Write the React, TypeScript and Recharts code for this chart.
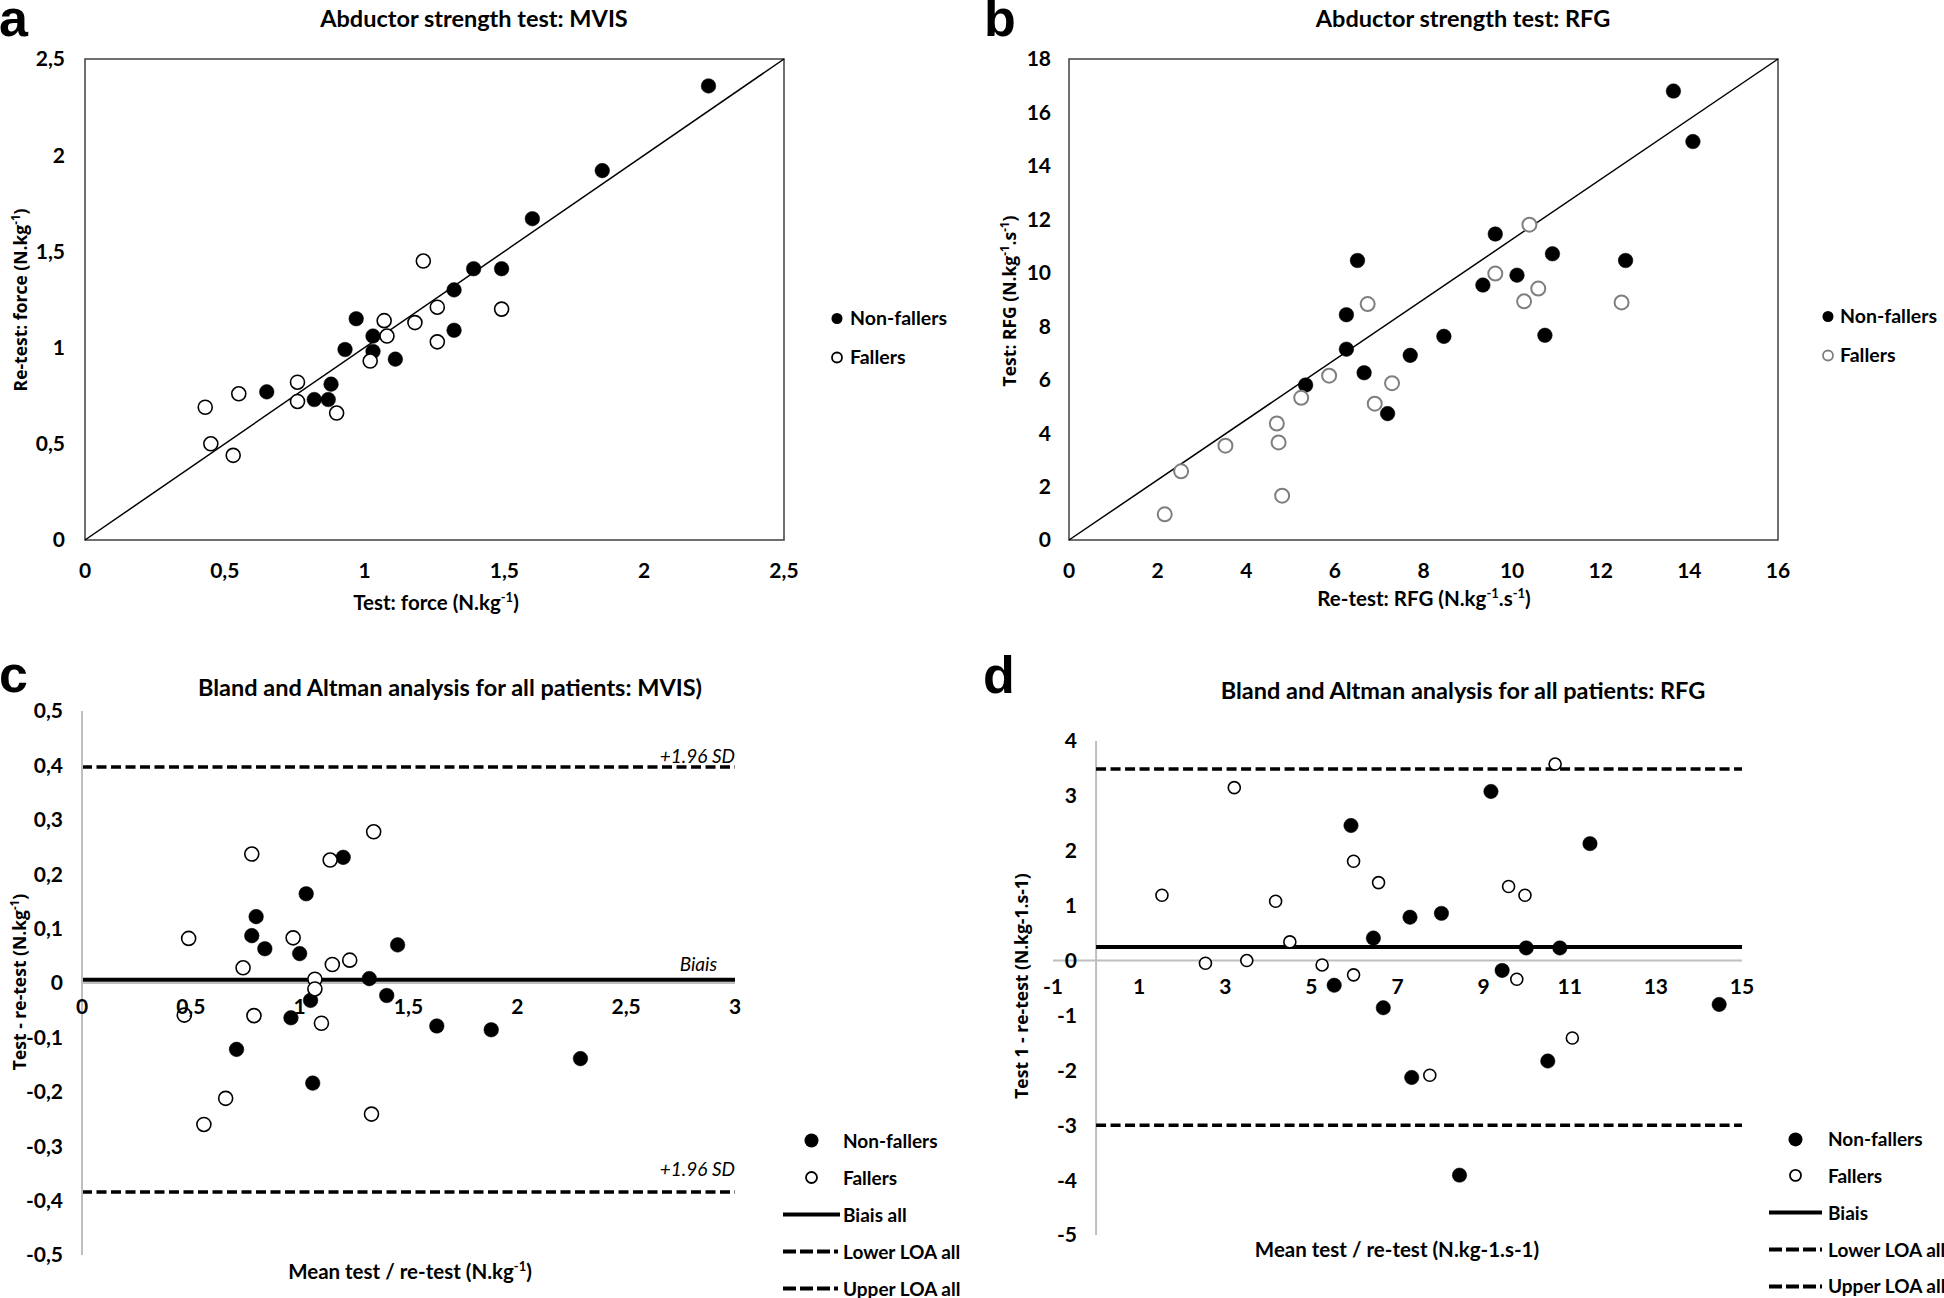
import React from 'react';
import { ScatterChart, Scatter, XAxis, YAxis, ReferenceLine, ReferenceArea, Legend } from 'recharts';

// ---------- Panel a: MVIS test vs re-test ----------
const A_NF_X = [2.23, 1.85, 1.6, 1.39, 1.49, 1.32, 1.32, 0.97, 1.03, 0.93, 1.03, 1.11, 0.88, 0.82, 0.87, 0.65];
const A_NF_Y = [2.36, 1.92, 1.67, 1.41, 1.41, 1.3, 1.09, 1.15, 1.06, 0.99, 0.98, 0.94, 0.81, 0.73, 0.73, 0.77];
const A_F_X = [1.21, 1.49, 1.26, 1.26, 1.18, 1.07, 1.08, 1.02, 0.76, 0.76, 0.9, 0.55, 0.43, 0.45, 0.53];
const A_F_Y = [1.45, 1.2, 1.21, 1.03, 1.13, 1.14, 1.06, 0.93, 0.82, 0.72, 0.66, 0.76, 0.69, 0.5, 0.44];
const A_TICKS = [0, 0.5, 1, 1.5, 2, 2.5];

// ---------- Panel b: RFG re-test vs test ----------
const B_NF_X = [13.64, 14.08, 9.62, 10.91, 6.51, 12.56, 10.11, 9.34, 6.26, 10.74, 8.46, 6.26, 7.7, 6.66, 5.34, 7.19];
const B_NF_Y = [16.8, 14.91, 11.45, 10.71, 10.46, 10.46, 9.91, 9.54, 8.43, 7.66, 7.62, 7.14, 6.91, 6.26, 5.8, 4.73];
const B_F_X = [10.39, 9.62, 10.59, 10.27, 12.47, 6.74, 5.87, 7.29, 5.24, 6.9, 4.69, 4.73, 3.53, 2.53, 4.81, 2.16];
const B_F_Y = [11.8, 9.97, 9.41, 8.93, 8.89, 8.83, 6.15, 5.87, 5.32, 5.1, 4.36, 3.65, 3.53, 2.57, 1.66, 0.96];
const B_XTICKS = [0, 2, 4, 6, 8, 10, 12, 14, 16];
const B_YTICKS = [0, 2, 4, 6, 8, 10, 12, 14, 16, 18];

// ---------- Panel c: Bland-Altman MVIS ----------
const C_NF_X = [1.2, 1.03, 0.8, 0.78, 0.84, 1.0, 1.45, 1.32, 1.4, 1.05, 0.96, 1.63, 1.88, 0.71, 2.29, 1.06];
const C_NF_Y = [0.231, 0.164, 0.122, 0.087, 0.063, 0.054, 0.07, 0.008, -0.023, -0.032, -0.064, -0.079, -0.086, -0.122, -0.139, -0.184];
const C_F_X = [1.34, 0.78, 1.14, 0.49, 0.97, 1.23, 1.15, 0.74, 1.07, 1.07, 0.47, 0.79, 1.1, 0.66, 0.56, 1.33];
const C_F_Y = [0.278, 0.237, 0.226, 0.082, 0.083, 0.042, 0.034, 0.028, 0.007, -0.011, -0.059, -0.06, -0.074, -0.212, -0.26, -0.241];
const C_BIAS = 0.006;
const C_UPPER = 0.397;
const C_LOWER = -0.384;
const C_XTICKS = [0, 0.5, 1, 1.5, 2, 2.5, 3];
const C_YTICKS = [-0.5, -0.4, -0.3, -0.2, -0.1, 0, 0.1, 0.2, 0.3, 0.4, 0.5];

// ---------- Panel d: Bland-Altman RFG ----------
const D_NF_X = [9.17, 5.92, 11.47, 8.02, 7.29, 6.44, 9.99, 10.77, 9.43, 5.53, 14.47, 6.67, 10.49, 7.33, 8.44];
const D_NF_Y = [3.08, 2.46, 2.13, 0.86, 0.79, 0.41, 0.23, 0.23, -0.18, -0.45, -0.8, -0.86, -1.83, -2.13, -3.91];
const D_F_X = [10.66, 3.21, 5.98, 6.56, 9.58, 9.96, 1.53, 4.17, 4.5, 2.54, 3.5, 5.25, 5.98, 9.77, 11.06, 7.75];
const D_F_Y = [3.58, 3.15, 1.81, 1.42, 1.35, 1.19, 1.19, 1.08, 0.34, -0.05, 0.0, -0.08, -0.26, -0.34, -1.41, -2.09];
const D_BIAS = 0.245;
const D_UPPER = 3.49;
const D_LOWER = -3.0;
const D_XTICKS = [-1, 1, 3, 5, 7, 9, 11, 13, 15];
const D_YTICKS = [-5, -4, -3, -2, -1, 0, 1, 2, 3, 4];

const LEG_AB = ['Non-fallers', 'Fallers'];
const LEG_C = ['Non-fallers', 'Fallers', 'Biais all', 'Lower LOA all', 'Upper LOA all'];
const LEG_D = ['Non-fallers', 'Fallers', 'Biais', 'Lower LOA all', 'Upper LOA all'];

const FONT = 'Lato, "Open Sans", sans-serif';
const YFONT = '"Open Sans", Lato, sans-serif';
const TICK_FS = 21;
const GRAY = '#bfbfbf';

const pts = (xs: number[], ys: number[]) => xs.map((x, i) => ({ x, y: ys[i] }));
const fmt = (v: number) => String(v).replace('.', ',');

const dot = (r: number, fill: string, stroke: string, sw: number) => (p: any) =>
  <circle cx={p.cx} cy={p.cy} r={r} fill={fill} stroke={stroke} strokeWidth={sw} />;

const yTick = (gap: number) => (p: any) => (
  <text x={p.x - gap} y={p.y + 7.4} textAnchor="end" fontFamily={FONT} fontWeight={700} fontSize={TICK_FS} fill="#000">
    {fmt(p.payload.value)}
  </text>
);
const xTickBelow = (dist: number) => (p: any) => (
  <text x={p.x} y={p.y + dist + 7.4} textAnchor="middle" fontFamily={FONT} fontWeight={700} fontSize={TICK_FS} fill="#000">
    {fmt(p.payload.value)}
  </text>
);
const xTickAt = (yPix: number) => (p: any) => (
  <text x={p.x} y={yPix + 7.4} textAnchor="middle" fontFamily={FONT} fontWeight={700} fontSize={TICK_FS} fill="#000">
    {fmt(p.payload.value)}
  </text>
);

const LegendBox = ({ items, spacing, sampleW, textGap, markR, openR, openStroke, fontSize }: any) => (
  <div style={{ fontFamily: FONT, fontWeight: 700, fontSize, color: '#000', lineHeight: 1 }}>
    {items.map((label: string, i: number) => {
      const h = spacing;
      const cx = sampleW / 2;
      let sample: any = null;
      if (i === 0) sample = <circle cx={cx} cy={h / 2} r={markR} fill="#000" />;
      else if (i === 1) sample = <circle cx={cx} cy={h / 2} r={openR} fill="#fff" stroke={openStroke} strokeWidth={1.8} />;
      else if (i === 2) sample = <line x1={0} x2={sampleW} y1={h / 2} y2={h / 2} stroke="#000" strokeWidth={4} />;
      else sample = <line x1={0} x2={sampleW} y1={h / 2} y2={h / 2} stroke="#000" strokeWidth={4} strokeDasharray="13 4 13 4 13 4 4 20" />;
      return (
        <div key={label} style={{ display: 'flex', alignItems: 'center', height: h, whiteSpace: 'nowrap' }}>
          <svg width={sampleW} height={h} style={{ flex: 'none', display: 'block' }}>{sample}</svg>
          <span style={{ marginLeft: textGap }}>{label}</span>
        </div>
      );
    })}
  </div>
);

const AnnLabel = ({ viewBox, text, dx, dy }: any) => {
  const vb = viewBox || { x: 0, y: 0, width: 0 };
  return (
    <text x={vb.x + vb.width + dx} y={vb.y + dy} textAnchor="end" fontFamily={FONT} fontStyle="italic" fontSize={19} fill="#000">
      {text}
    </text>
  );
};

// rich text with superscripts: strings are normal, [string] is superscript
const rich = (parts: (string | string[])[], supFs: number, rise: number) => {
  let raised = false;
  return parts.map((p, i) => {
    if (Array.isArray(p)) {
      raised = true;
      return <tspan key={i} dy={-rise} fontSize={supFs}>{p[0]}</tspan>;
    }
    const dy = raised ? rise : 0;
    raised = false;
    return <tspan key={i} dy={dy}>{p}</tspan>;
  });
};

// Layout constants (chart pixels)
const C_TOP = 71, C_H = 544;
const C_ZERO = C_TOP + C_H * 0.5;
const D_TOP = 101, D_H = 494;
const D_ZERO = D_TOP + D_H * (4 / 9);

export default function App() {
  const aNF = pts(A_NF_X, A_NF_Y), aF = pts(A_F_X, A_F_Y);
  const bNF = pts(B_NF_X, B_NF_Y), bF = pts(B_F_X, B_F_Y);
  const cNF = pts(C_NF_X, C_NF_Y), cF = pts(C_F_X, C_F_Y);
  const dNF = pts(D_NF_X, D_NF_Y), dF = pts(D_F_X, D_F_Y);

  const txt = { fontFamily: FONT, fontWeight: 700, fill: '#000' } as any;
  const ytxt = { fontFamily: YFONT, fontWeight: 700, fill: '#000', fontSize: 17.5 } as any;

  return (
    <div style={{ position: 'absolute', left: 0, top: 0, width: 1944, height: 1298, background: '#fff', overflow: 'hidden' }}>
      {/* Panel a */}
      <div style={{ position: 'absolute', left: 0, top: 0 }}>
        <ScatterChart width={1000} height={640} margin={{ top: 59, right: 216, bottom: 40, left: 25 }}>
          <XAxis type="number" dataKey="x" domain={[0, 2.5]} ticks={A_TICKS} interval={0} axisLine={false} tickLine={false} tickSize={0} tickMargin={0} height={60} tick={xTickBelow(31)} />
          <YAxis type="number" dataKey="y" domain={[0, 2.5]} ticks={A_TICKS} interval={0} axisLine={false} tickLine={false} tickSize={0} tickMargin={0} width={60} tick={yTick(20)} />
          <ReferenceArea x1={0} x2={2.5} y1={0} y2={2.5} fill="#fff" fillOpacity={0} stroke="#404040" strokeWidth={1.5} />
          <ReferenceLine segment={[{ x: 0, y: 0 }, { x: 2.5, y: 2.5 }]} stroke="#000" strokeWidth={1.5} />
          <Scatter name="Non-fallers" data={aNF} shape={dot(7.3, '#000', '#000', 0.5)} isAnimationActive={false} />
          <Scatter name="Fallers" data={aF} shape={dot(7, '#fff', '#000', 1.6)} isAnimationActive={false} />
          <Legend layout="vertical" align="center" verticalAlign="middle" wrapperStyle={{ left: 831, top: 298.5, width: 200 }}
            content={() => <LegendBox items={LEG_AB} spacing={39} sampleW={12} textGap={7} markR={5.5} openR={5} openStroke="#000" fontSize={19.5} />} />
        </ScatterChart>
      </div>

      {/* Panel b */}
      <div style={{ position: 'absolute', left: 985, top: 0 }}>
        <ScatterChart width={959} height={640} margin={{ top: 59, right: 166, bottom: 40, left: 24 }}>
          <XAxis type="number" dataKey="x" domain={[0, 16]} ticks={B_XTICKS} interval={0} axisLine={false} tickLine={false} tickSize={0} tickMargin={0} height={60} tick={xTickBelow(31)} />
          <YAxis type="number" dataKey="y" domain={[0, 18]} ticks={B_YTICKS} interval={0} axisLine={false} tickLine={false} tickSize={0} tickMargin={0} width={60} tick={yTick(18)} />
          <ReferenceArea x1={0} x2={16} y1={0} y2={18} fill="#fff" fillOpacity={0} stroke="#404040" strokeWidth={1.5} />
          <ReferenceLine segment={[{ x: 0, y: 0 }, { x: 16, y: 18 }]} stroke="#000" strokeWidth={1.5} />
          <Scatter name="Non-fallers" data={bNF} shape={dot(7.3, '#000', '#000', 0.5)} isAnimationActive={false} />
          <Scatter name="Fallers" data={bF} shape={dot(7, '#fff', '#7f7f7f', 2)} isAnimationActive={false} />
          <Legend layout="vertical" align="center" verticalAlign="middle" wrapperStyle={{ left: 837, top: 296.5, width: 200 }}
            content={() => <LegendBox items={LEG_AB} spacing={39} sampleW={12} textGap={6} markR={5.5} openR={5} openStroke="#7f7f7f" fontSize={19.5} />} />
        </ScatterChart>
      </div>

      {/* Panel c */}
      <div style={{ position: 'absolute', left: 0, top: 640 }}>
        <ScatterChart width={1000} height={658} margin={{ top: C_TOP, right: 265, bottom: 13, left: 22 }}>
          <XAxis type="number" dataKey="x" domain={[0, 3]} ticks={C_XTICKS} interval={0} axisLine={false} tickLine={false} tickSize={0} tickMargin={0} height={30} tick={xTickAt(C_ZERO + 24)} />
          <YAxis type="number" dataKey="y" domain={[-0.5, 0.5]} ticks={C_YTICKS} interval={0} axisLine={{ stroke: GRAY, strokeWidth: 2 }} tickLine={false} tickSize={0} tickMargin={0} width={60} tick={yTick(19)} />
          <ReferenceLine y={0} stroke={GRAY} strokeWidth={2} />
          <ReferenceLine y={C_UPPER} stroke="#000" strokeWidth={3.5} strokeDasharray="10 4.5" label={<AnnLabel text="+1.96 SD" dx={0} dy={-4} />} />
          <ReferenceLine y={C_LOWER} stroke="#000" strokeWidth={3.5} strokeDasharray="10 4.5" label={<AnnLabel text="+1.96 SD" dx={0} dy={-16} />} />
          <ReferenceLine y={C_BIAS} stroke="#000" strokeWidth={4} label={<AnnLabel text="Biais" dx={-18} dy={-9} />} />
          <Scatter name="Non-fallers" data={cNF} shape={dot(7.3, '#000', '#000', 0.5)} isAnimationActive={false} />
          <Scatter name="Fallers" data={cF} shape={dot(7, '#fff', '#000', 1.6)} isAnimationActive={false} />
          <Legend layout="vertical" align="center" verticalAlign="middle" wrapperStyle={{ left: 783, top: 481.5, width: 217 }}
            content={() => <LegendBox items={LEG_C} spacing={37} sampleW={57} textGap={3} markR={7} openR={5.5} openStroke="#000" fontSize={19} />} />
        </ScatterChart>
      </div>

      {/* Panel d */}
      <div style={{ position: 'absolute', left: 985, top: 640 }}>
        <ScatterChart width={959} height={658} margin={{ top: D_TOP, right: 202, bottom: 33, left: 8 }}>
          <XAxis type="number" dataKey="x" domain={[-1, 15]} ticks={D_XTICKS} interval={0} axisLine={false} tickLine={false} tickSize={0} tickMargin={0} height={30} tick={xTickAt(D_ZERO + 26)} />
          <YAxis type="number" dataKey="y" domain={[-5, 4]} ticks={D_YTICKS} interval={0} axisLine={false} tickLine={false} tickSize={0} tickMargin={0} width={60} tick={yTick(-24)} />
          <ReferenceLine y={0} stroke={GRAY} strokeWidth={2} />
          <ReferenceLine x={0} stroke={GRAY} strokeWidth={2} />
          <ReferenceLine segment={[{ x: 0, y: D_UPPER }, { x: 15, y: D_UPPER }]} stroke="#000" strokeWidth={3.5} strokeDasharray="10 4.5" />
          <ReferenceLine segment={[{ x: 0, y: D_LOWER }, { x: 15, y: D_LOWER }]} stroke="#000" strokeWidth={3.5} strokeDasharray="10 4.5" />
          <ReferenceLine segment={[{ x: 0, y: D_BIAS }, { x: 15, y: D_BIAS }]} stroke="#000" strokeWidth={4} />
          <Scatter name="Non-fallers" data={dNF} shape={dot(7.2, '#000', '#000', 0.5)} isAnimationActive={false} />
          <Scatter name="Fallers" data={dF} shape={dot(6, '#fff', '#000', 1.6)} isAnimationActive={false} />
          <Legend layout="vertical" align="center" verticalAlign="middle" wrapperStyle={{ left: 784, top: 480.5, width: 200 }}
            content={() => <LegendBox items={LEG_D} spacing={36.75} sampleW={53} textGap={6} markR={7} openR={5.5} openStroke="#000" fontSize={19} />} />
        </ScatterChart>
      </div>

      {/* Titles, panel letters and axis titles */}
      <svg width={1944} height={1298} style={{ position: 'absolute', left: 0, top: 0, pointerEvents: 'none' }}>
        <g fontFamily='"Liberation Sans", Arial, sans-serif' fontWeight={700} fontSize={52} fill="#000">
          <text x={-1} y={36}>a</text>
          <text x={984} y={36}>b</text>
          <text x={-1} y={692}>c</text>
          <text x={983} y={693}>d</text>
        </g>
        <g {...txt} fontSize={23.5} textAnchor="middle">
          <text x={474} y={27}>Abductor strength test: MVIS</text>
          <text x={1463} y={27}>Abductor strength test: RFG</text>
          <text x={450} y={696}>Bland and Altman analysis for all patients: MVIS)</text>
          <text x={1463} y={699}>Bland and Altman analysis for all patients: RFG</text>
        </g>
        <g {...txt} fontSize={20.5} textAnchor="middle">
          <text x={436} y={610}>{rich(['Test: force (N.kg', ['-1'], ')'], 13, 8)}</text>
          <text x={1424} y={606}>{rich(['Re-test: RFG (N.kg', ['-1'], '.s', ['-1'], ')'], 13, 8)}</text>
          <text x={410} y={1279}>{rich(['Mean test / re-test (N.kg', ['-1'], ')'], 13, 8)}</text>
          <text x={1397} y={1257}>Mean test / re-test (N.kg-1.s-1)</text>
        </g>
        <g {...ytxt} textAnchor="middle">
          <text transform="translate(26.5,300) rotate(-90)">{rich(['Re-test: force (N.kg', ['-1'], ')'], 11.5, 7)}</text>
          <text transform="translate(1015.5,301) rotate(-90)">{rich(['Test: RFG (N.kg', ['-1'], '.s', ['-1'], ')'], 11.5, 7)}</text>
          <text transform="translate(25.5,982) rotate(-90)">{rich(['Test - re-test (N.kg', ['-1'], ')'], 11.5, 7)}</text>
          <text transform="translate(1027.5,986) rotate(-90)">Test 1 - re-test (N.kg-1.s-1)</text>
        </g>
      </svg>
    </div>
  );
}
